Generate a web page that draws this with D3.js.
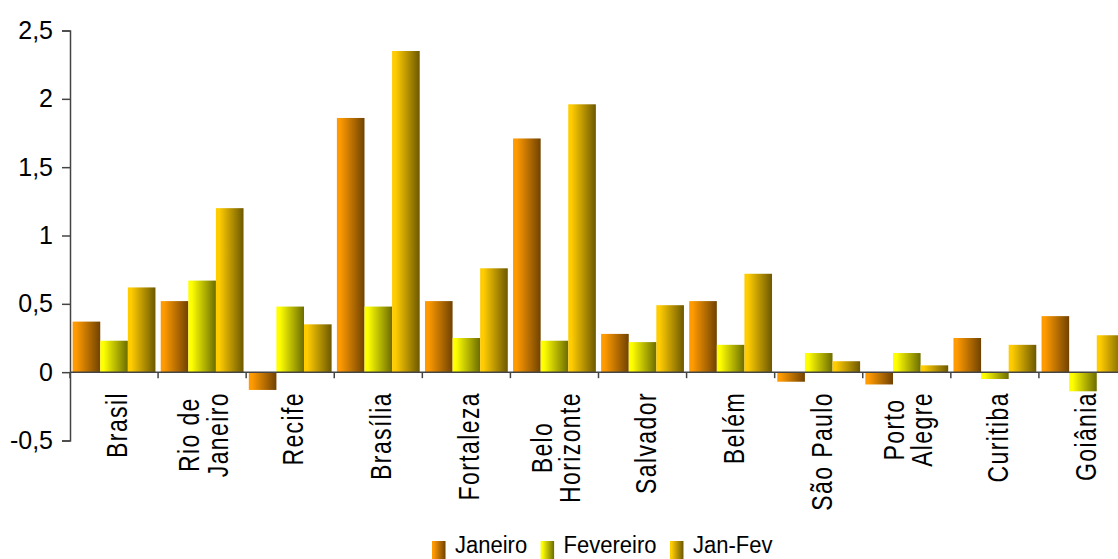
<!DOCTYPE html>
<html>
<head>
<meta charset="utf-8">
<script src="https://cdn.jsdelivr.net/npm/d3@7/dist/d3.min.js"></script>
<style>
  html, body { margin: 0; padding: 0; background: #fff; }
  svg { display: block; }
  text { font-family: "Liberation Sans", Arial, sans-serif; fill: #000; }
</style>
</head>
<body>
<svg id="chart" width="1118" height="559"></svg>
<script>
// ---- data ----
const categories = ["Brasil", "Rio de\nJaneiro", "Recife", "Brasília", "Fortaleza", "Belo\nHorizonte",
                    "Salvador", "Belém", "São Paulo", "Porto\nAlegre", "Curitiba", "Goiânia"];
const seriesNames = ["Janeiro", "Fevereiro", "Jan-Fev"];
const janeiro   = [0.37, 0.52, -0.13, 1.86, 0.52, 1.71, 0.28, 0.52, -0.07, -0.09, 0.25, 0.41];
const fevereiro = [0.23, 0.67, 0.48, 0.48, 0.25, 0.23, 0.22, 0.20, 0.14, 0.14, -0.05, -0.14];
const janFev    = [0.62, 1.20, 0.35, 2.35, 0.76, 1.96, 0.49, 0.72, 0.08, 0.05, 0.20, 0.27];
const yTicks = [-0.5, 0, 0.5, 1, 1.5, 2, 2.5];

const seriesValues = [janeiro, fevereiro, janFev];
const gradColors = [["#ff9a00", "#704200"], ["#ffff00", "#6c6c00"], ["#ffcc00", "#6c5800"]];

const svg = d3.select("#chart");
const defs = svg.append("defs");
gradColors.forEach((c, i) => {
  const g = defs.append("linearGradient").attr("id", "g" + i)
    .attr("x1", 0).attr("x2", 1).attr("y1", 0).attr("y2", 0);
  g.append("stop").attr("offset", "0").attr("stop-color", c[0]);
  g.append("stop").attr("offset", "0.12").attr("stop-color", c[0]);
  g.append("stop").attr("offset", "1").attr("stop-color", c[1]);
});

const x0 = d3.scaleBand().domain(d3.range(categories.length)).range([70, 1127])
  .paddingInner(0.06).paddingOuter(0.03);
const x1 = d3.scaleBand().domain(d3.range(seriesNames.length)).range([0, x0.bandwidth()]);
const y = d3.scaleLinear().domain([-0.5, 2.5]).range([440.5, 30.5]);

// bars
const groups = svg.append("g").selectAll("g").data(categories).join("g")
  .attr("transform", (d, i) => `translate(${x0(i)},0)`);
groups.selectAll("rect")
  .data((d, i) => seriesValues.map((s, k) => ({ k, v: s[i] })))
  .join("rect")
  .attr("x", d => x1(d.k))
  .attr("width", x1.bandwidth())
  .attr("y", d => y(Math.max(0, d.v)))
  .attr("height", d => Math.abs(y(d.v) - y(0)))
  .attr("fill", d => `url(#g${d.k})`);

// y axis
const yAxis = d3.axisLeft(y).tickValues(yTicks).tickSize(8).tickPadding(9)
  .tickFormat(v => String(v).replace(".", ","));
const ya = svg.append("g").attr("transform", "translate(70,0)").call(yAxis);
ya.select(".domain").attr("stroke", "#444").attr("stroke-width", 1.5);
ya.selectAll(".tick line").attr("stroke", "#444").attr("stroke-width", 1.5);
ya.selectAll(".tick text").style("font-size", "25px").attr("fill", "#000")
  .style("font-family", '"Liberation Sans", Arial, sans-serif');

// x axis at zero
const step = x0.step();
const boundaries = d3.range(categories.length + 1).map(k =>
  (k < categories.length ? x0(k) : x0(k - 1) + step) - step * x0.paddingInner() / 2);
svg.append("line").attr("x1", 70).attr("x2", 1118).attr("y1", y(0)).attr("y2", y(0))
  .attr("stroke", "#444").attr("stroke-width", 1.5);
svg.append("g").selectAll("line").data(boundaries).join("line")
  .attr("x1", d => d).attr("x2", d => d)
  .attr("y1", y(0)).attr("y2", y(0) + 6)
  .attr("stroke", "#444").attr("stroke-width", 1.5);

// category labels (rotated)
const labelTop = 392;
const lineGap = 28.4;
const lab = svg.append("g");
categories.forEach((c, i) => {
  const lines = c.split("\n");
  const cx = x0(i) + x0.bandwidth() / 2;
  const n = lines.length;
  const base = n === 1 ? 13 : 11.3;
  const texts = lines.map((ln, j) => lab.append("text")
    .text(ln)
    .style("font-size", "23px")
    .style("letter-spacing", "1.4px")
    .attr("text-anchor", "middle"));
  const maxLen = d3.max(texts, t => t.node().getComputedTextLength());
  texts.forEach((t, j) => {
    const bx = cx + base + (j - (n - 1) / 2) * lineGap;
    const by = labelTop + maxLen / 2;
    t.attr("transform", `translate(${bx},${by}) rotate(-90) scale(1,1.25)`);
  });
});

// legend
const leg = svg.append("g");
let lx = 432;
seriesNames.forEach((s, k) => {
  leg.append("rect").attr("x", lx).attr("y", 541).attr("width", 13.5).attr("height", 18)
    .attr("fill", `url(#g${k})`);
  const t = leg.append("text").text(s).style("font-size", "22px")
    .attr("transform", `translate(${lx + 23},553) scale(1,1.1)`);
  const w = t.node().getComputedTextLength();
  lx = lx + 23 + w + 13.5;
});
</script>
</body>
</html>
